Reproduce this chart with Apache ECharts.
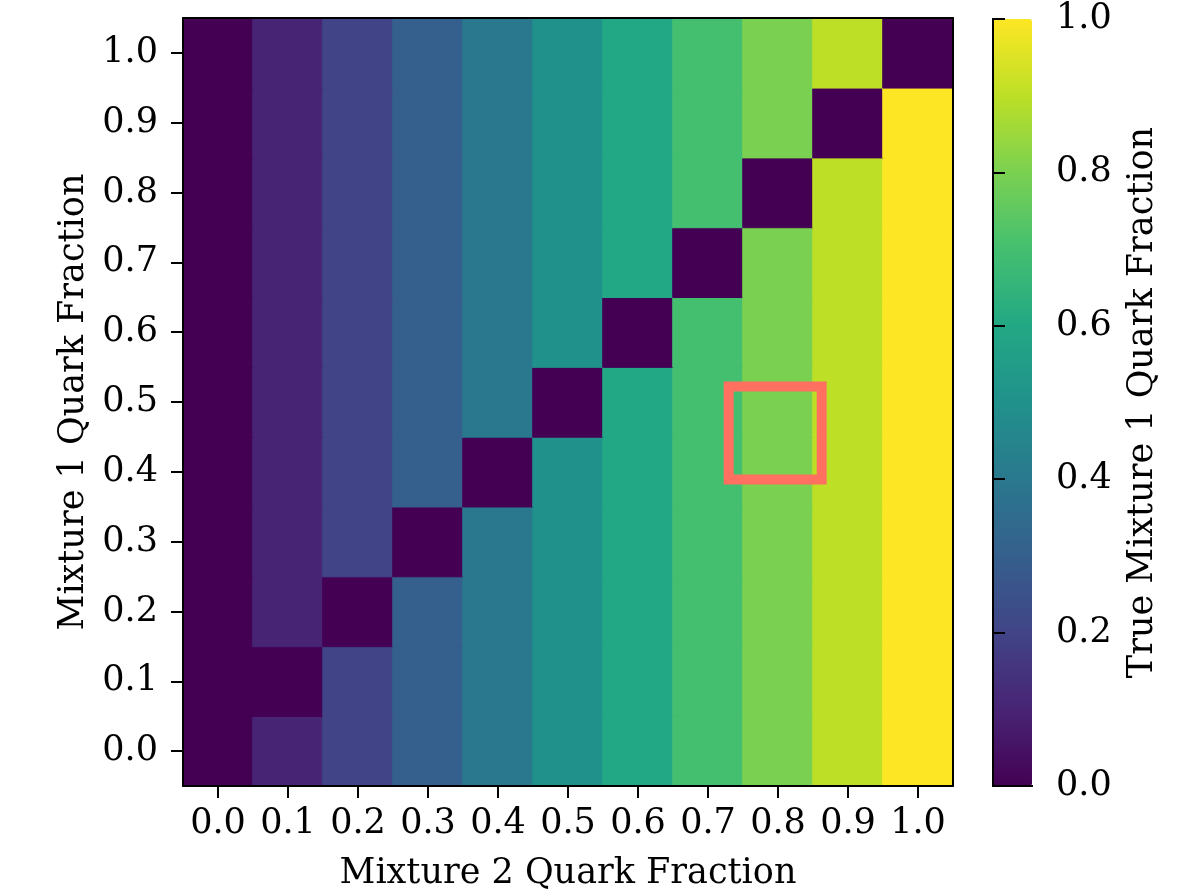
<!DOCTYPE html>
<html>
<head>
    <meta charset="utf-8">
    <title>Quark fraction heatmap</title>
    <script src="https://cdn.jsdelivr.net/npm/echarts@6/dist/echarts.min.js"></script>
</head>
<body style="margin:0;background:#fff;">
    <div id="main" style="width:1178px;height:896px;"></div>
    <script type="text/javascript">
        // tick labels of both axes
        var mix2Labels = ['0.0', '0.1', '0.2', '0.3', '0.4', '0.5', '0.6', '0.7', '0.8', '0.9', '1.0'];
        var mix1Labels = ['0.0', '0.1', '0.2', '0.3', '0.4', '0.5', '0.6', '0.7', '0.8', '0.9', '1.0'];

        // true mixture 1 quark fraction, one row per mixture 1 value (bottom row first)
        var trueFrac = [
            [0.0, 0.1, 0.2, 0.3, 0.4, 0.5, 0.6, 0.7, 0.8, 0.9, 1.0],
            [0.0, 0.0, 0.2, 0.3, 0.4, 0.5, 0.6, 0.7, 0.8, 0.9, 1.0],
            [0.0, 0.1, 0.0, 0.3, 0.4, 0.5, 0.6, 0.7, 0.8, 0.9, 1.0],
            [0.0, 0.1, 0.2, 0.0, 0.4, 0.5, 0.6, 0.7, 0.8, 0.9, 1.0],
            [0.0, 0.1, 0.2, 0.3, 0.0, 0.5, 0.6, 0.7, 0.8, 0.9, 1.0],
            [0.0, 0.1, 0.2, 0.3, 0.4, 0.0, 0.6, 0.7, 0.8, 0.9, 1.0],
            [0.0, 0.1, 0.2, 0.3, 0.4, 0.5, 0.0, 0.7, 0.8, 0.9, 1.0],
            [0.0, 0.1, 0.2, 0.3, 0.4, 0.5, 0.6, 0.0, 0.8, 0.9, 1.0],
            [0.0, 0.1, 0.2, 0.3, 0.4, 0.5, 0.6, 0.7, 0.0, 0.9, 1.0],
            [0.0, 0.1, 0.2, 0.3, 0.4, 0.5, 0.6, 0.7, 0.8, 0.0, 1.0],
            [0.0, 0.1, 0.2, 0.3, 0.4, 0.5, 0.6, 0.7, 0.8, 0.9, 0.0]
        ];

        // highlighted point (mixture 2, mixture 1)
        var markedPoint = [[0.796, 0.457]];

        var viridis = ['#440154', '#482475', '#414487', '#355f8d', '#2a788e', '#21918c',
                       '#22a884', '#44bf70', '#7ad151', '#bddf26', '#fde725'];

        // cells; a 1px border in the fill colour hides the seams between rows
        var cells = [];
        for (var r = 0; r < trueFrac.length; r++) {
            for (var c = 0; c < trueFrac[r].length; c++) {
                var v = trueFrac[r][c];
                cells.push({
                    value: [c, r, v],
                    itemStyle: { borderColor: viridis[Math.round(v * 10)], borderWidth: 1 }
                });
            }
        }

        var FONT = 'DejaVu Serif';
        var FS = 35;
        var line = { show: true, lineStyle: { color: '#000', width: 2 } };
        var tick = { show: true, length: 12, lineStyle: { color: '#000', width: 2 } };
        var plot = { left: 183, top: 18, width: 770, height: 770 };

        var myChart = echarts.init(document.getElementById('main'));

        var option = {
            backgroundColor: '#fff',
            animation: false,
            textStyle: { fontFamily: FONT },
            grid: [
                plot,
                plot,
                { left: 993, top: 19, width: 39, height: 767 }
            ],
            xAxis: [
                {
                    type: 'category', gridIndex: 0, data: mix2Labels, position: 'bottom', z: 5,
                    name: 'Mixture 2 Quark Fraction', nameLocation: 'middle', nameGap: 70,
                    nameTextStyle: { fontFamily: FONT, fontSize: FS, color: '#000' },
                    axisLine: line,
                    axisTick: { show: true, alignWithLabel: true, length: 12, lineStyle: { color: '#000', width: 2 } },
                    axisLabel: { fontFamily: FONT, fontSize: FS, color: '#000', margin: 20, interval: 0 },
                    splitLine: { show: false }
                },
                {
                    type: 'category', gridIndex: 0, data: mix2Labels, position: 'top', z: 5,
                    axisLine: line, axisTick: { show: false }, axisLabel: { show: false }, splitLine: { show: false }
                },
                {
                    type: 'value', gridIndex: 1, min: -0.05, max: 1.05, show: false
                },
                {
                    type: 'value', gridIndex: 2, position: 'bottom', min: 0, max: 1, z: 10,
                    axisLine: line, axisTick: { show: false }, axisLabel: { show: false }, splitLine: { show: false }
                },
                {
                    type: 'value', gridIndex: 2, position: 'top', min: 0, max: 1, z: 10,
                    axisLine: line, axisTick: { show: false }, axisLabel: { show: false }, splitLine: { show: false }
                }
            ],
            yAxis: [
                {
                    type: 'category', gridIndex: 0, data: mix1Labels, position: 'left', z: 5,
                    name: 'Mixture 1 Quark Fraction', nameLocation: 'middle', nameGap: 92,
                    nameTextStyle: { fontFamily: FONT, fontSize: FS, color: '#000' },
                    axisLine: line,
                    axisTick: { show: true, alignWithLabel: true, length: 12, lineStyle: { color: '#000', width: 2 } },
                    axisLabel: { fontFamily: FONT, fontSize: FS, color: '#000', margin: 25, interval: 0 },
                    splitLine: { show: false }
                },
                {
                    type: 'category', gridIndex: 0, data: mix1Labels, position: 'right', z: 5,
                    axisLine: line, axisTick: { show: false }, axisLabel: { show: false }, splitLine: { show: false }
                },
                {
                    type: 'value', gridIndex: 1, min: -0.05, max: 1.05, show: false
                },
                {
                    type: 'value', gridIndex: 2, position: 'right', min: 0, max: 1, interval: 0.2, z: 10,
                    name: 'True Mixture 1 Quark Fraction', nameLocation: 'middle', nameGap: 93,
                    nameTextStyle: { fontFamily: FONT, fontSize: FS, color: '#000' },
                    axisLine: line, axisTick: tick,
                    axisLabel: {
                        fontFamily: FONT, fontSize: FS, color: '#000', margin: 24,
                        formatter: function (v) { return v.toFixed(1); }
                    },
                    splitLine: { show: false }
                },
                {
                    type: 'value', gridIndex: 2, position: 'left', min: 0, max: 1, z: 10,
                    axisLine: line, axisTick: { show: false }, axisLabel: { show: false }, splitLine: { show: false }
                }
            ],
            visualMap: {
                type: 'continuous',
                seriesIndex: 0,
                min: 0,
                max: 1,
                calculable: false,
                orient: 'vertical',
                left: 993,
                top: 19,
                itemWidth: 39,
                itemHeight: 767,
                padding: 0,
                hoverLink: false,
                inRange: { color: viridis }
            },
            series: [
                {
                    type: 'heatmap',
                    xAxisIndex: 0,
                    yAxisIndex: 0,
                    data: cells,
                    emphasis: { disabled: true }
                },
                {
                    type: 'scatter',
                    xAxisIndex: 2,
                    yAxisIndex: 2,
                    data: markedPoint,
                    symbol: 'rect',
                    symbolSize: 93,
                    z: 8,
                    itemStyle: { color: 'rgba(0,0,0,0)', borderColor: '#ff7060', borderWidth: 10, opacity: 1 }
                }
            ]
        };

        myChart.setOption(option);
    </script>
</body>
</html>
